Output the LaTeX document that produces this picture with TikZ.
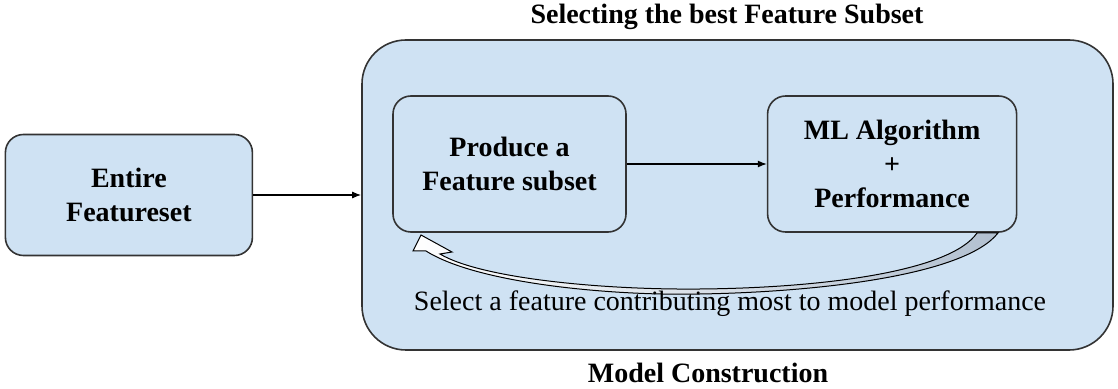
\documentclass[tikz,border=0pt]{standalone}
\usepackage{fontspec}
\setmainfont{Liberation Serif}
\usetikzlibrary{arrows.meta,positioning}
\definecolor{boxblue}{HTML}{CFE2F3}
\definecolor{bandgray}{RGB}{178,192,208}

\begin{document}
\begin{tikzpicture}[>={Latex[length=4.5pt,width=3.5pt]},x=0.5pt,y=-0.5pt,font=\fontsize{14}{17}\selectfont]
  \tikzstyle{stagebox}=[draw=black!80,fill=boxblue,line width=0.8pt,align=center,inner sep=0pt,font=\fontsize{14}{17}\selectfont\bfseries]
  \useasboundingbox (0,0) rectangle (1118,389);

  \node[stagebox,rounded corners=22pt,minimum width=375.5pt,minimum height=155pt] (outer) at (737.5,195) {};
  \node[stagebox,rounded corners=9pt,minimum width=123.5pt,minimum height=60.5pt,left=54pt of outer] (entire) {Entire\\Featureset};
  \draw[line width=0.6pt,->] (entire) -- (outer);

  \node[stagebox,rounded corners=9pt,minimum width=116.5pt,minimum height=68pt] (produce) at (509.5,164) {Produce a\\Feature subset};
  \node[stagebox,rounded corners=9pt,minimum width=124.5pt,minimum height=68pt,right=70pt of produce] (mlperf) {ML Algorithm\\+\\Performance};
  \draw[line width=0.6pt,->] (produce) -- (mlperf);

  % curved feedback arrow
  \draw[line width=0.5pt,left color=white,middle color=white,right color=bandgray]
    (421,235) -- (413,251) -- (426,251)
    .. controls (480,285) and (620,296) .. (700,294)
    .. controls (820,292) and (965,275) .. (998,233)
    -- (977,233)
    .. controls (950,272) and (820,288) .. (700,289)
    .. controls (600,290) and (480,278) .. (440,254)
    -- (452,252) -- cycle;

  \node[anchor=base] (selectlbl) at (730,311) {Select a feature contributing most to model performance};
  \node[anchor=base,font=\fontsize{14}{17}\selectfont\bfseries] (toplbl) at (727,24) {Selecting the best Feature Subset};
  \node[anchor=base,font=\fontsize{14}{17}\selectfont\bfseries] (bottomlbl) at (708,383) {Model Construction};
\end{tikzpicture}
\end{document}
